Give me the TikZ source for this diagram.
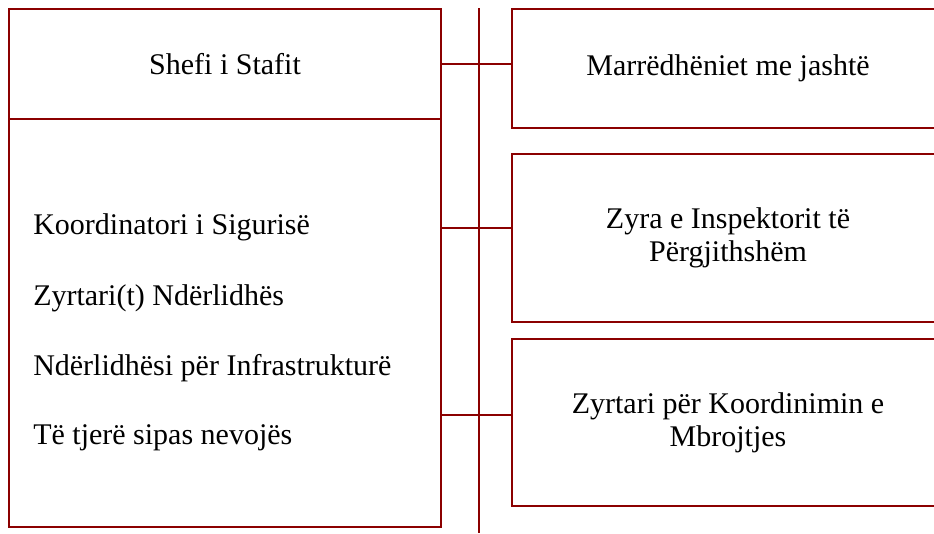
\documentclass[tikz,border=0pt]{standalone}
\usepackage{fontspec}
\setmainfont{Liberation Serif}
\definecolor{kuq}{RGB}{139,0,0}
\tikzset{
  kuti/.style={draw=kuq, line width=1.5pt, inner sep=0pt, minimum width=324pt,
               align=center, font=\fontsize{22.5}{24.5}\selectfont},
  lidhje/.style={draw=kuq, line width=1.1pt},
  rresht/.style={anchor=west, inner sep=0pt, font=\fontsize{22.5}{24.5}\selectfont}
}
\begin{document}
\begin{tikzpicture}[x=0.75pt, y=-0.75pt]
   \clip (0,0) rectangle (934,533);
   \fill[white] (0,0) rectangle (934,533);
   % left column
   \node[kuti, minimum height=82.5pt] (shefi) at (225,64) {Shefi i Stafit};
   \node[kuti, minimum height=306pt] (grup) at (225,323) {};
   \node[rresht] (k1) at (33,227) {Koordinatori i Sigurisë};
   \node[rresht] (k2) at (33,298) {Zyrtari(t) Ndërlidhës};
   \node[rresht] (k3) at (33,368) {Ndërlidhësi për Infrastrukturë};
   \node[rresht] (k4) at (33,438) {Të tjerë sipas nevojës};
   % right column
   \node[kuti, minimum height=89.25pt] (jasht) at (728,68.5) {Marrëdhëniet me jashtë};
   \node[kuti, minimum height=126pt] (inspekt) at (728,238) {Zyra e Inspektorit të\\Përgjithshëm};
   \node[kuti, minimum height=125.25pt] (mbrojt) at (728,422.5) {Zyrtari për Koordinimin e\\Mbrojtjes};
   % middle line and connectors
   \coordinate (sipër) at (479,8);
   \coordinate (poshtë) at (479,533);
   \coordinate (c2) at (479,228);
   \coordinate (c3) at (479,415);
   \draw[lidhje] (sipër) -- (poshtë);
   \draw[lidhje] (shefi.east) -- (shefi.east -| jasht.west);
   \draw[lidhje] (grup.east |- c2) -- (inspekt.west |- c2);
   \draw[lidhje] (grup.east |- c3) -- (mbrojt.west |- c3);
\end{tikzpicture}
\end{document}
